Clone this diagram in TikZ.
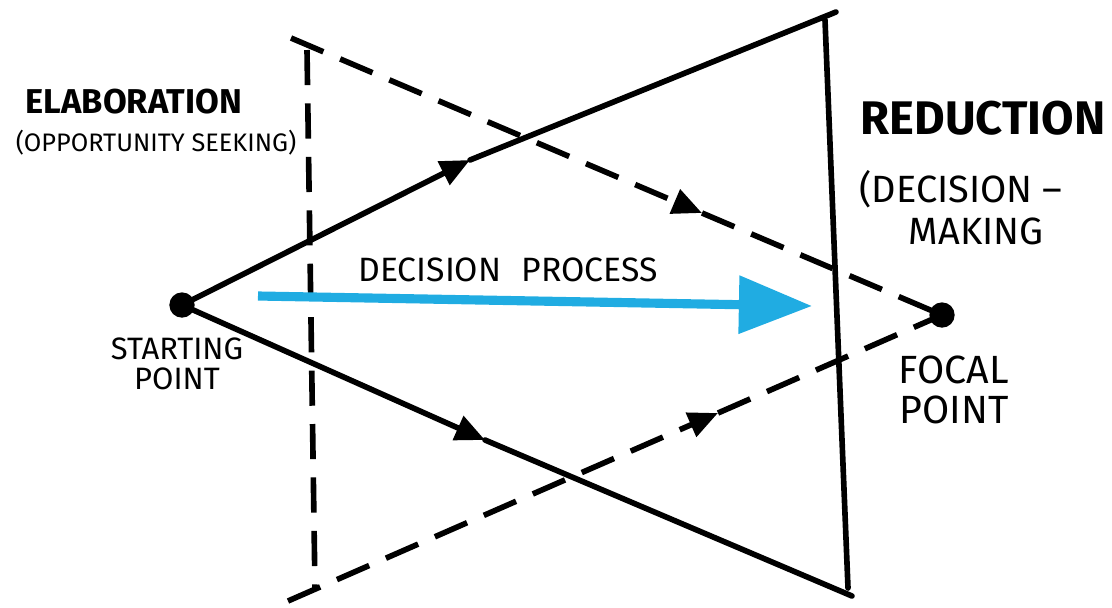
\documentclass[tikz,border=0pt]{standalone}
\usepackage{fontspec}
\setmainfont{Fira Sans}
\usetikzlibrary{arrows.meta}
\definecolor{sketchblue}{RGB}{32,172,226}

\begin{document}
\begin{tikzpicture}[x=0.025cm, y=-0.025cm,
	pen/.style={line width=4pt, line cap=round},
	dashpen/.style={line width=4pt, dash pattern=on 25pt off 13pt},
	tip/.style={-{Triangle[length=21pt, width=18pt]}},
	dot/.style={circle, fill=black, inner sep=0pt, minimum size=18pt},
	lbl/.style={align=center, inner sep=0pt}]

	\useasboundingbox (0,0) rectangle (1112,607);

	\node (s) [dot] at (182, 305) {};
	\node (f) [dot] at (942, 315) {};

	\coordinate (tr) at (836, 12);
	\coordinate (br) at (852, 596);
	\coordinate (tl) at (291, 38);
	\coordinate (bl) at (288, 601);
	\coordinate (vt) at (307, 50);
	\coordinate (vb) at (315, 590);
	\coordinate (rt) at (825, 20);
	\coordinate (rb) at (848, 588);

	\coordinate (a1) at (470, 160);
	\coordinate (a2) at (485, 440);
	\coordinate (a3) at (702, 213);
	\coordinate (a4) at (718, 413);

	\path[pen]
	(s.center) edge[tip] (a1)
	(a1) edge (tr)
	(s.center) edge[tip] (a2)
	(a2) edge (br)
	(rt) edge (rb);

	\path[dashpen]
	(tl) edge[tip] (a3)
	(a3) edge (f.center)
	(bl) edge[tip] (a4)
	(a4) edge (f.center)
	(vt) edge (vb);

	\coordinate (b0) at (258, 296);
	\coordinate (b1) at (812, 306);
	\draw[sketchblue, line width=6.5pt, -{Triangle[length=52pt, width=40pt]}] (b0) -- (b1);

	\node (elab) [lbl, font=\bfseries\fontsize{24.5}{28}\selectfont] at (134, 102) {ELABORATION};
	\node (seek) [lbl, font=\fontsize{18}{20}\selectfont] at (156, 143) {(OPPORTUNITY SEEKING)};
	\node (red) [lbl, font=\bfseries\fontsize{33.5}{36}\selectfont] at (983, 118) {REDUCTION};
	\node (mak) [lbl, font=\fontsize{27}{30}\selectfont] at (961, 208) {(DECISION –\\\hspace*{0.8em}MAKING};
	\node (proc) [lbl, font=\fontsize{24}{26}\selectfont] at (508, 270) {DECISION\hspace{0.6em}PROCESS};
	\node (start) [lbl, font=\fontsize{22}{21}\selectfont] at (177, 364) {STARTING\\POINT};
	\node (foc) [lbl, font=\fontsize{28}{28}\selectfont] at (954, 390) {FOCAL\\POINT};

\end{tikzpicture}
\end{document}
